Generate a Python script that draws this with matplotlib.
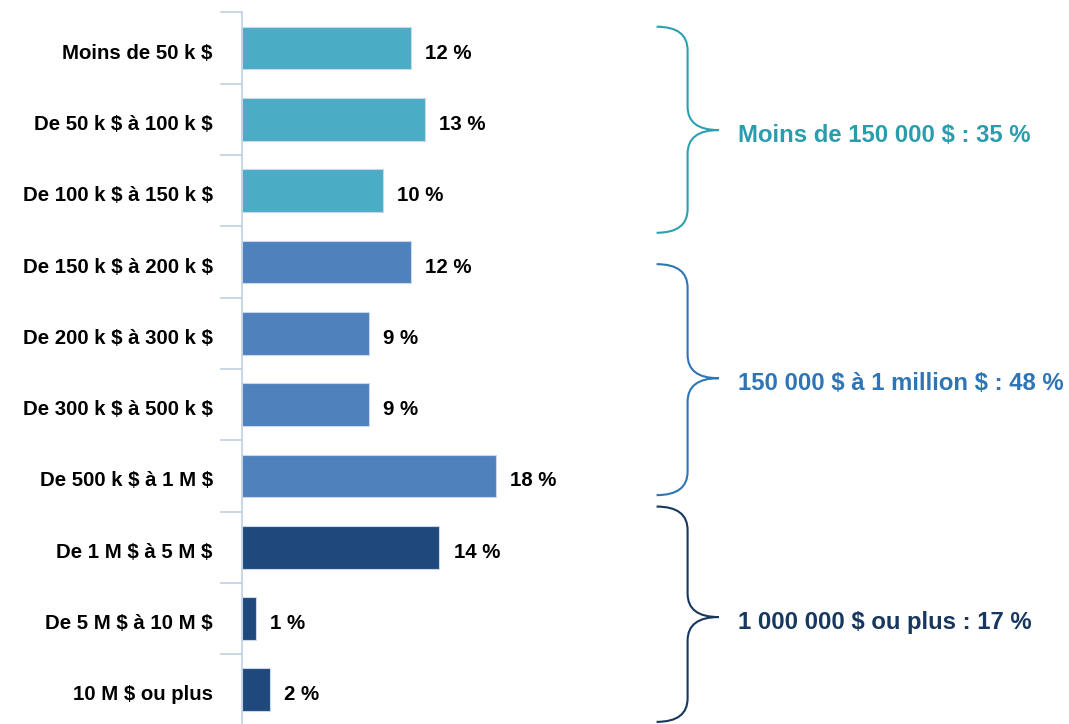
import matplotlib
matplotlib.use('Agg')
import matplotlib.pyplot as plt
import matplotlib.transforms as mtransforms
from matplotlib.path import Path
from matplotlib.patches import PathPatch

plt.rcParams['font.family'] = ['Liberation Sans', 'DejaVu Sans']
plt.rcParams['font.weight'] = 'bold'
plt.rcParams['text.parse_math'] = False  # les $ sont du texte

# Données
categories = ['Moins de 50 k $', 'De 50 k $ à 100 k $', 'De 100 k $ à 150 k $',
              'De 150 k $ à 200 k $', 'De 200 k $ à 300 k $', 'De 300 k $ à 500 k $',
              'De 500 k $ à 1 M $', 'De 1 M $ à 5 M $', 'De 5 M $ à 10 M $',
              '10 M $ ou plus']
values = [12, 13, 10, 12, 9, 9, 18, 14, 1, 2]
groups = [0, 0, 0, 1, 1, 1, 1, 2, 2, 2]
group_labels = ['Moins de 150 000 $ : 35 %',
                '150 000 $ à 1 million $ : 48 %',
                '1 000 000 $ ou plus : 17 %']

bar_colors = ['#4bacc6', '#4f81bd', '#1f497d']
brace_colors = ['#2e9fb0', '#2e75b6', '#17375e']
text_colors = ['#2b9cae', '#2e75b6', '#17375e']

fig = plt.figure(figsize=(10.69, 7.24), dpi=100)
ax = fig.add_axes([0.2264, -0.002, 0.7736, 0.9848])

# petit décalage vers le bas des textes (3 px)
down = mtransforms.ScaledTranslation(0, -0.03, fig.dpi_scale_trans)

y = list(range(len(categories)))
cols = [bar_colors[g] for g in groups]
ax.barh(y, values, height=0.6, color=cols, edgecolor='#c9d7ea', linewidth=0.8)

for yi, v in zip(y, values):
    ax.text(v + 1.0, yi, f'{v} %', va='center_baseline', ha='left', fontsize=14.7,
            fontweight='bold', color='black', transform=ax.transData + down)

ax.set_xlim(0, 58.65)
ax.set_ylim(len(categories) - 0.5, -0.5)
ax.set_yticks(y)
ax.set_yticklabels(categories, fontsize=14.7, fontweight='bold', va='center_baseline')
ax.set_yticks([i - 0.5 for i in range(len(categories) + 1)], minor=True)
ax.tick_params(axis='y', which='major', length=0, pad=21)
ax.tick_params(axis='y', which='minor', length=16, width=1.2, color='#c0cfe2')
for lab in ax.get_yticklabels():
    lab.set_transform(lab.get_transform() + down)
ax.set_xticks([])
for s in ['top', 'right', 'bottom']:
    ax.spines[s].set_visible(False)
ax.spines['left'].set_color('#c0cfe2')
ax.spines['left'].set_linewidth(1.2)


# Accolades
def brace(y0, y1, ym, color, x0=29.4, xv=31.6, xt=33.8, r=0.33):
    verts = [(x0, y0), (xv, y0), (xv, y0 + r),
             (xv, ym - r), (xv, ym), (xt, ym),
             (xv, ym), (xv, ym + r),
             (xv, y1 - r), (xv, y1), (x0, y1)]
    codes = [Path.MOVETO, Path.CURVE3, Path.CURVE3,
             Path.LINETO, Path.CURVE3, Path.CURVE3,
             Path.CURVE3, Path.CURVE3,
             Path.LINETO, Path.CURVE3, Path.CURVE3]
    ax.add_patch(PathPatch(Path(verts, codes), facecolor='none', edgecolor=color,
                           linewidth=1.5, clip_on=False))


brace_pos = [(-0.3, 2.59, 1.15), (3.03, 6.27, 4.63), (6.43, 9.45, 7.98)]
for k, (y0, y1, ym) in enumerate(brace_pos):
    brace(y0, y1, ym, brace_colors[k])
    ax.text(35.2, ym, group_labels[k], va='center_baseline', ha='left', fontsize=17.2,
            fontweight='bold', color=text_colors[k], transform=ax.transData + down)

fig.savefig('out.png', dpi=100)
